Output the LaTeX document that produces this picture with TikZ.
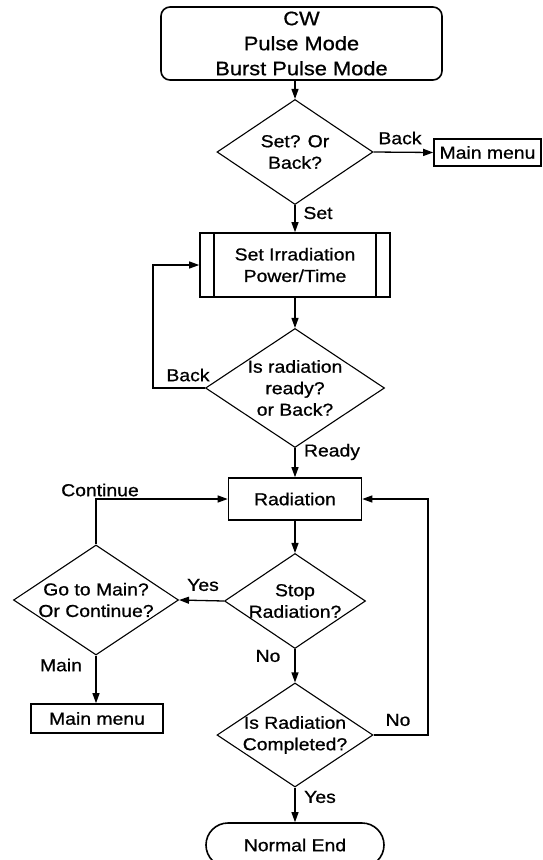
\documentclass[tikz,border=0pt]{standalone}
\usepackage{fontspec}
\setmainfont{Liberation Sans}[FakeStretch=1.12,FakeBold=0.8]
\usetikzlibrary{shapes.geometric,arrows.meta}
\begin{document}
\begin{tikzpicture}[x=1pt,y=-1pt,
  every node/.style={font=\fontsize{17.3}{21.5}\selectfont, inner sep=0pt},
  box/.style={draw, rectangle, line width=1.6pt, align=center},
  dia/.style={draw, diamond, line width=1.1pt},
  txt/.style={align=center},
  flow/.style={line width=1.3pt, -{Triangle[length=10pt,width=7pt]}}]
\fill[white] (0,0) rectangle (542,860);
\clip (0,0) rectangle (542,860);
% nodes
\node[box, rounded corners=9pt, minimum width=281pt, minimum height=73pt,
      font=\fontsize{19.5}{25}\selectfont] (top) at (301.5,43.5) {CW\\Pulse Mode\\Burst Pulse Mode};
\node[dia, minimum width=156pt, minimum height=105pt,
      label={[txt]center:Set? Or\\Back?}] (d1) at (295,152) {};
\node[box, minimum width=107pt, minimum height=27pt] (mm1) at (487.5,152.5) {Main menu};
\node[box, minimum width=190pt, minimum height=64pt] (set) at (295,265) {Set Irradiation\\Power/Time};
\draw[line width=1.6pt] ([xshift=15pt]set.north west) -- ([xshift=15pt]set.south west);
\draw[line width=1.6pt] ([xshift=-15pt]set.north east) -- ([xshift=-15pt]set.south east);
\node[dia, minimum width=179pt, minimum height=119pt,
      label={[txt]center:Is radiation\\ready?\\or Back?}] (d2) at (295,388) {};
\node[box, minimum width=133pt, minimum height=42pt] (rad) at (295,499) {Radiation};
\node[dia, minimum width=141pt, minimum height=95pt,
      label={[txt]center:Stop\\Radiation?}] (stop) at (295,601) {};
\node[dia, minimum width=165pt, minimum height=110pt,
      label={[txt]center:Go to Main?\\Or Continue?}] (gm) at (96,600) {};
\node[box, minimum width=132pt, minimum height=29pt] (mm2) at (97,718.5) {Main menu};
\node[dia, minimum width=156pt, minimum height=104pt,
      label={[txt]center:Is Radiation\\Completed?}] (comp) at (295,735) {};
\node[box, rounded corners=22pt, minimum width=178pt, minimum height=44pt] (nend) at (295,845) {Normal End};
% helper coordinates
\coordinate (lb) at (153,388);
\coordinate (cr) at (428,735);
% connectors
\draw[flow] (top.south -| d1.north) -- (d1.north);
\draw[flow] (d1.east) -- (mm1.west);
\draw[flow] (d1.south) -- (set.north);
\draw[flow] (set.south) -- (d2.north);
\draw[flow] (d2.west) -- (lb) |- (set.west);
\draw[flow] (d2.south) -- (rad.north);
\draw[flow] (rad.south) -- (stop.north);
\draw[flow] (stop.west) -- (gm.east);
\draw[flow] (gm.north) |- (rad.west);
\draw[flow] (gm.south) -- (gm.south |- mm2.north);
\draw[flow] (stop.south) -- (comp.north);
\draw[flow] (comp.east) -- (cr) |- (rad.east);
\draw[flow] (comp.south) -- (nend.north);
% connector labels
\node (lback1) at (400,138) {Back};
\node (lset) at (318,213) {Set};
\node (lback2) at (188,375) {Back};
\node (lready) at (332,452) {Ready};
\node (lyes1) at (203,585) {Yes};
\node (lcont) at (100,490) {Continue};
\node (lmain) at (61,665) {Main};
\node (lno1) at (268,656) {No};
\node (lno2) at (398,720) {No};
\node (lyes2) at (320,797) {Yes};
\end{tikzpicture}
\end{document}
